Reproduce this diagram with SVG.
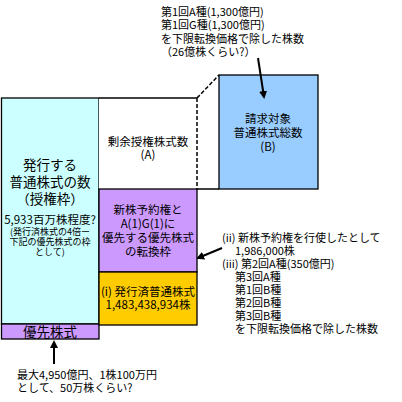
<svg xmlns="http://www.w3.org/2000/svg" width="402" height="402" viewBox="0 0 402 402">
<defs>
<style>
text{font-family:"Noto Sans CJK JP","Noto Sans",sans-serif;fill:#000}
.b{stroke:#000;stroke-width:1.3}
.c{text-anchor:middle}
.t12{font-size:11.5px}
.t11{font-size:11px}
.t14{font-size:13.5px}
.t10{font-size:9px}
</style>
<marker id="ah" markerWidth="8" markerHeight="8" refX="6" refY="4" orient="auto" markerUnits="userSpaceOnUse">
<path d="M0,0 L8,4 L0,8 z" fill="#000"/>
</marker>
</defs>
<rect width="402" height="402" fill="#fff"/>
<g id="authorized">
<rect class="b" x="1.5" y="98" width="97.5" height="226" fill="#CCFFFF"/>
<text class="c t14" x="50" y="170">発行する</text>
<text class="c t14" x="50" y="187">普通株式の数</text>
<text class="c t14" x="50" y="204">（授権枠）</text>
<text class="c t12" x="50" y="224">5,933百万株程度?</text>
<text class="c t10" x="50" y="235">(発行済株式の4倍ー</text>
<text class="c t10" x="50" y="245">下記の優先株式の枠</text>
<text class="c t10" x="50" y="255">として)</text>
</g>
<g id="preferred">
<rect class="b" x="1.5" y="324" width="97.5" height="15" fill="#CC99FF"/>
<text class="c t14" x="50" y="337">優先株式</text>
</g>
<g id="remaining">
<rect x="99" y="98" width="98" height="91" fill="#fff"/>
<path class="b" d="M99,98 H197" fill="none"/>
<text class="c t12" x="148" y="146">剰余授権株式数</text>
<text class="c t12" x="148" y="159">(A)</text>
</g>
<g id="conversion">
<rect class="b" x="99" y="189" width="98" height="83" fill="#CC99FF"/>
<text class="c t12" x="148" y="214">新株予約権と</text>
<text class="c t12" x="148" y="228">A(1)G(1)に</text>
<text class="c t12" x="148" y="242">優先する優先株式</text>
<text class="c t12" x="148" y="256">の転換枠</text>
</g>
<g id="issued">
<rect class="b" x="99" y="272" width="98" height="53" fill="#FFCC00"/>
<text class="c t12" x="148" y="296">(i) 発行済普通株式</text>
<text class="c t12" x="148" y="309">1,483,438,934株</text>
</g>
<g id="target">
<rect class="b" x="219" y="75" width="99" height="114" fill="#99CCFF"/>
<text class="c t12" x="268" y="123">請求対象</text>
<text class="c t12" x="268" y="137">普通株式総数</text>
<text class="c t12" x="268" y="151">(B)</text>
</g>
<g id="connectors" fill="none" stroke="#000">
<path d="M197,98 V189 M197,98 L219,75" stroke-width="1.5" stroke-dasharray="4,2"/>
<path d="M197,189 H219" stroke-width="1.5"/>
<path d="M258,58 L264,97" stroke-width="2" marker-end="url(#ah)"/>
<path d="M222,248 L198,258" stroke-width="2" marker-end="url(#ah)"/>
<path d="M54,364 V342" stroke-width="2" marker-end="url(#ah)"/>
</g>
<g id="labels" class="t11">
<text x="161" y="16">第1回A種(1,300億円)</text>
<text x="161" y="29">第1回G種(1,300億円)</text>
<text x="161" y="43">を下限転換価格で除した株数</text>
<text x="161" y="56">（26億株くらい?）</text>
<text x="222" y="242">(ii) 新株予約権を行使したとして</text>
<text x="235" y="255">1,986,000株</text>
<text x="222" y="268">(iii) 第2回A種(350億円)</text>
<text x="235" y="281">第3回A種</text>
<text x="235" y="294">第1回B種</text>
<text x="235" y="307">第2回B種</text>
<text x="235" y="320">第3回B種</text>
<text x="235" y="333">を下限転換価格で除した株数</text>
<text x="17" y="379">最大4,950億円、1株100万円</text>
<text x="17" y="392">として、50万株くらい?</text>
</g>
</svg>
